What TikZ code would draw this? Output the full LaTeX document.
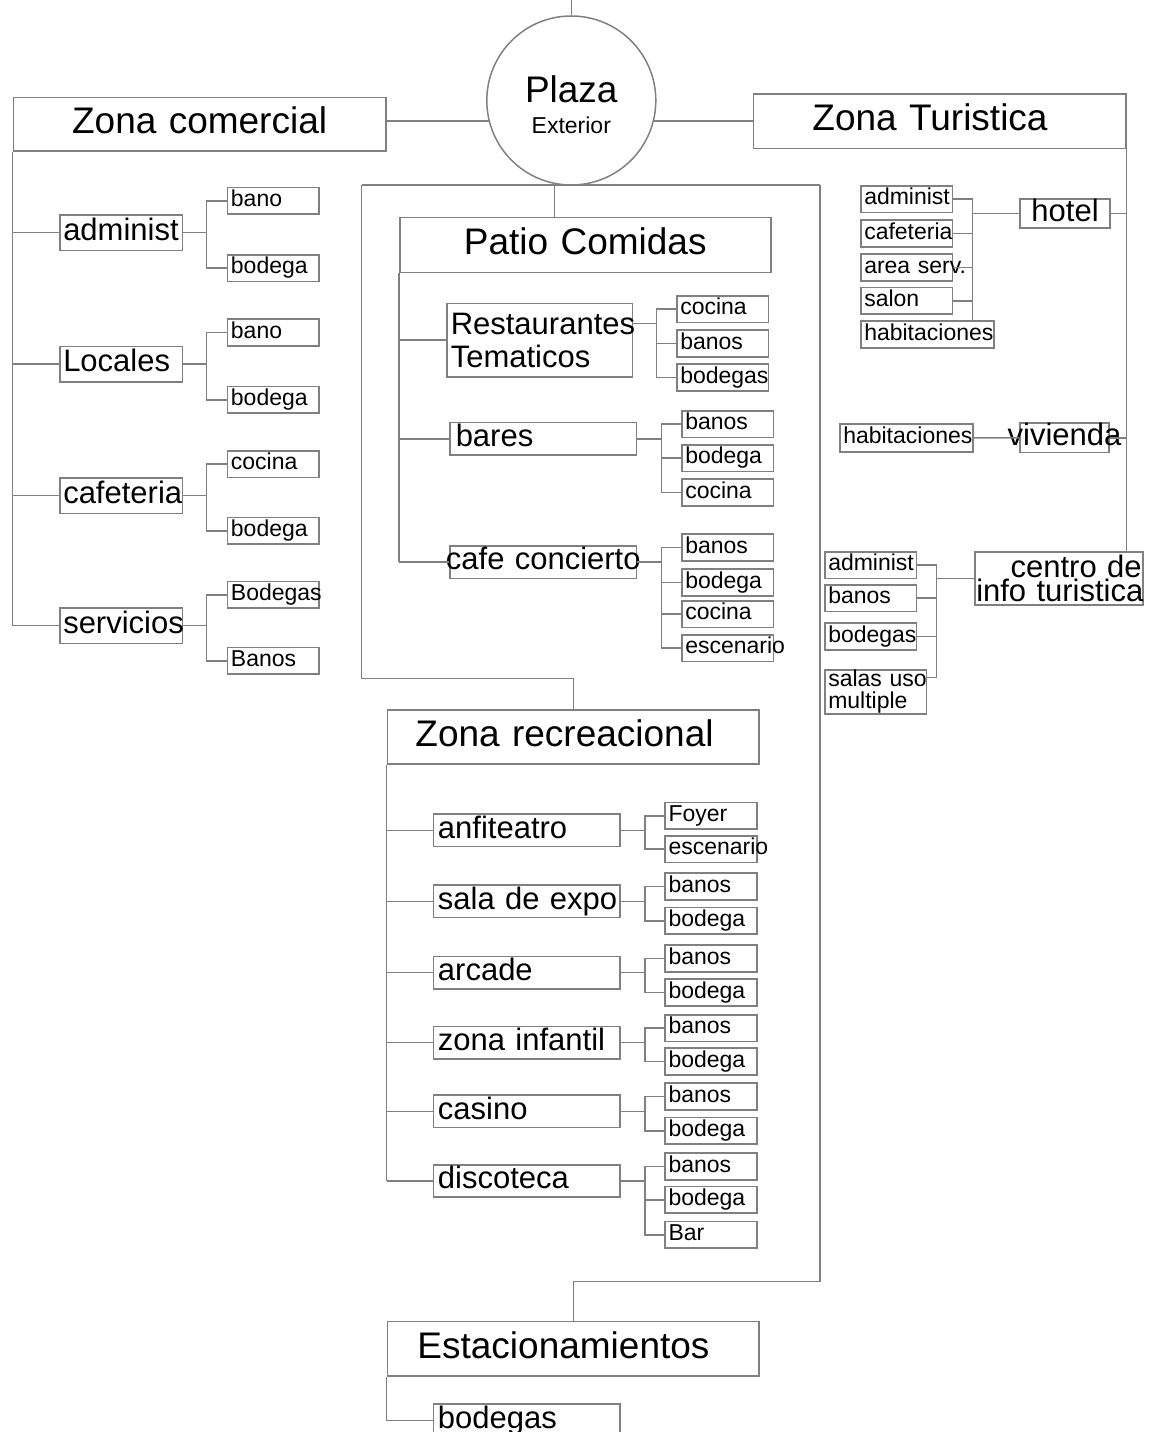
\documentclass[tikz,border=0pt]{standalone}
\usepackage{fontspec}
\setmainfont{Liberation Sans}
\definecolor{lc}{gray}{0.5}

\begin{document}
\begin{tikzpicture}[
	x=1pt, y=-1pt,
	ln/.style={draw=lc, line width=1.5pt},
	box/.style={draw=lc, line width=1.5pt, anchor=north west, inner ysep=0pt, align=left},
	ttl/.style={box, font=\fontsize{37}{40}\selectfont, minimum height=53.3pt, text height=27pt, text depth=8pt},
	mid/.style={box, font=\fontsize{31}{33}\selectfont, inner xsep=4pt, text height=22pt, text depth=6.5pt},
	lmid/.style={mid, text width=115.7pt, inner xsep=3.5pt, minimum height=35.5pt},
	rmid/.style={mid, text width=177.3pt, inner xsep=4.5pt, minimum height=32.4pt},
	sml/.style={box, font=\fontsize{23}{22}\selectfont, text width=84.7pt, inner xsep=3.5pt, minimum height=26.7pt, text height=16pt, text depth=4.5pt}
	]
	\useasboundingbox (0,0) rectangle (1157,1432);
	\clip (0,0) rectangle (1157,1432);

	% plaza y zonas
	\node[circle, draw=lc, line width=1.5pt, minimum size=169pt, inner sep=0pt] (pl) at (571.3,100.5) {};
	\node[align=center, inner sep=0pt, font=\fontsize{23}{31}\selectfont] (plt) at ([yshift=-4.5pt]pl.center) {{\fontsize{37}{40}\selectfont Plaza}\\Exterior};
	\coordinate (top) at (571.3,0);
	\node[ttl, align=center, inner xsep=4pt, text width=364.3pt] (zc) at (12.7,96.7) {\mbox{Zona comercial}};
	\node[ttl, inner xsep=59pt, text width=254.3pt, minimum height=54.4pt] (zt) at (752.7,93.3) {\mbox{Zona Turistica}};
	\node[ttl, align=center, inner xsep=4pt, text width=363pt, minimum height=55pt] (pc) at (399,216.7) {\mbox{Patio Comidas}};
	\node[ttl, inner xsep=28pt, text width=315.6pt, minimum height=54pt] (zr) at (386.7,709.3) {\mbox{Zona recreacional}};
	\node[ttl, inner xsep=30pt, text width=311.6pt, minimum height=54.3pt] (es) at (386.7,1320.7) {Estacionamientos};

	% zona comercial
	\node[lmid] (adm) at (59,214) {administ};
	\node[lmid] (loc) at (59,345.7) {Locales};
	\node[lmid] (caf) at (59,477) {cafeteria};
	\node[lmid] (ser) at (59,607) {servicios};
	\foreach \n/\y/\t in {a1/186.7/bano, a2/254/bodega, l1/318.3/bano, l2/385.7/bodega,
		c1/450/cocina, c2/516.7/bodega, s1/580.7/Bodegas, s2/646.7/Banos}
		\node[sml] (\n) at (226.7,\y) {\mbox{\t}};

	% patio comidas
	\node[mid, text width=177.7pt, minimum height=73.3pt, text height={}, text depth={}] (rt) at (446,302.7) {\mbox{Restaurantes}\\\mbox{Tematicos}};
	\node[mid, text width=175pt, inner xsep=5.7pt, minimum height=32.6pt] (ba) at (449.3,421.7) {bares};
	\node[mid, text width=186.4pt, inner xsep=0pt, minimum height=32.7pt] (cc) at (449.3,545) {\makebox[186.4pt]{cafe concierto}};
	\foreach \n/\y/\t in {pr1/295/cocina, pr2/329.3/banos, pr3/363.3/bodegas}
		\node[sml] (\n) at (676,\y) {\mbox{\t}};
	\foreach \n/\y/\t in {pb1/410/banos, pb2/444/bodega, pb3/478.3/cocina,
		pk1/533.3/banos, pk2/568.3/bodega, pk3/600/cocina, pk4/634/escenario}
		\node[sml] (\n) at (681,\y) {\mbox{\t}};

	% zona recreacional
	\foreach \n/\y/\t in {anf/813.3/anfiteatro, sal/884.3/sala de expo, arc/955.7/arcade,
		inf/1025.7/zona infantil, cas/1094.3/casino, dis/1164/discoteca, eb/1403.3/bodegas}
		\node[rmid] (\n) at (432.7,\y) {\mbox{\t}};
	\foreach \n/\y/\t in {r11/801.7/Foyer, r12/835/escenario, r21/872.3/banos, r22/906.7/bodega,
		r31/944.3/banos, r32/978.3/bodega, r41/1014/banos, r42/1047.3/bodega,
		r51/1082.3/banos, r52/1116.7/bodega, r61/1152.3/banos, r62/1185.7/bodega, r63/1220.7/Bar}
		\node[sml] (\n) at (664.3,\y) {\mbox{\t}};

	% zona turistica
	\node[mid, align=center, text width=86pt, inner xsep=2pt, minimum height=29pt] (hot) at (1019.3,198.3) {hotel};
	\node[mid, text width=89pt, inner xsep=0pt, minimum height=29.4pt] (viv) at (1019.3,422.3) {\makebox[89pt]{vivienda}};
	\node[mid, align=right, font=\fontsize{31}{24}\selectfont, text width=165.3pt, inner xsep=1.5pt, minimum height=53pt, text height={}, text depth={}] (cit) at (974,551) {\mbox{centro de}\\\mbox{info turistica}};
	\foreach \n/\y/\t in {h1/185/administ, h2/219.3/cafeteria, h3/253.3/area serv., h4/286.7/salon}
		\node[sml] (\n) at (860,\y) {\mbox{\t}};
	\node[sml, text width=126.3pt, minimum height=27.3pt] (h5) at (860,320) {habitaciones};
	\node[sml, text width=126.3pt, minimum height=27.7pt] (vh) at (839,423.3) {habitaciones};
	\foreach \n/\y/\t in {t1/551/administ, t2/584/banos, t3/622.3/bodegas}
		\node[sml] (\n) at (824,\y) {\mbox{\t}};
	\node[sml, text width=94.7pt, minimum height=44.3pt, text height={}, text depth={}] (t4) at (824,669) {\mbox{salas uso}\\\mbox{multiple}};

	% lineas de la plaza
	\draw[ln] (pl.north) -- (pl.north |- top);
	\draw[ln] (pl.194 -| zc.east) -- (pl.194);
	\draw[ln] (pl.-14) -- (pl.-14 -| zt.west);
	\coordinate (fl) at (361.7,185);
	\coordinate (fr) at (820,185);
	\draw[ln] (fl) -- (fr);
	\draw[ln] (fl) -- ++(0,493.3) -| (zr.north);
	\draw[ln] (fr) -- ++(0,1096.7) -| (es.north);
	\draw[ln] ([xshift=-31pt]pc.north) -- ([xshift=-31pt]pc.north |- fl);

	% troncos
	\draw[ln] (zc.south west) -- (zc.south west |- ser.west);
	\foreach \n in {adm,loc,caf,ser}
		\draw[ln] (zc.south west |- \n.west) -- (\n.west);
	\draw[ln] (pc.south west) -- (pc.south west |- cc.west);
	\foreach \n in {rt,ba,cc}
		\draw[ln] (pc.south west |- \n.west) -- (\n.west);
	\draw[ln] (zr.south west) -- (zr.south west |- dis.west);
	\foreach \n in {anf,sal,arc,inf,cas,dis}
		\draw[ln] (zr.south west |- \n.west) -- (\n.west);
	\draw[ln] (es.south west) |- (eb.west);
	\draw[ln] (zt.south east) -- (zt.south east |- cit.north);
	\draw[ln] (hot.east) -- (hot.east -| zt.east);
	\draw[ln] (viv.east) -- (viv.east -| zt.east);
	\draw[ln] (vh.east) -- (viv.west);

	% ramas
	\foreach \p/\cl in {adm/{a1,a2}, loc/{l1,l2}, caf/{c1,c2}, ser/{s1,s2}}
		\foreach \c in \cl
			\draw[ln] (\p.east) -- ++(23.3,0) |- (\c.west);
	\foreach \c in {pr1,pr2,pr3}
		\draw[ln] ([yshift=16.7pt]rt.east) -- ++(23.3,0) |- (\c.west);
	\foreach \p/\cl in {ba/{pb1,pb2,pb3}, cc/{pk1,pk2,pk3,pk4}, anf/{r11,r12}, sal/{r21,r22},
		arc/{r31,r32}, inf/{r41,r42}, cas/{r51,r52}, dis/{r61,r62,r63}}
		\foreach \c in \cl
			\draw[ln] (\p.east) -- ++(24.3,0) |- (\c.west);
	\coordinate (hb) at ([xshift=-47pt]hot.west);
	\draw[ln] (hot.west) -- (hb);
	\foreach \c in {h1,h2,h3,h4}
		\draw[ln] (hb) |- (\c.east);
	\draw[ln] (hb) -- (hb |- h5.north);
	\coordinate (cb) at ([xshift=-37.3pt]cit.west);
	\draw[ln] (cit.west) -- (cb);
	\foreach \c in {t1,t2,t3}
		\draw[ln] (cb) |- (\c.east);
	\draw[ln] (cb) |- ([yshift=14.3pt]t4.east);
\end{tikzpicture}
\end{document}
